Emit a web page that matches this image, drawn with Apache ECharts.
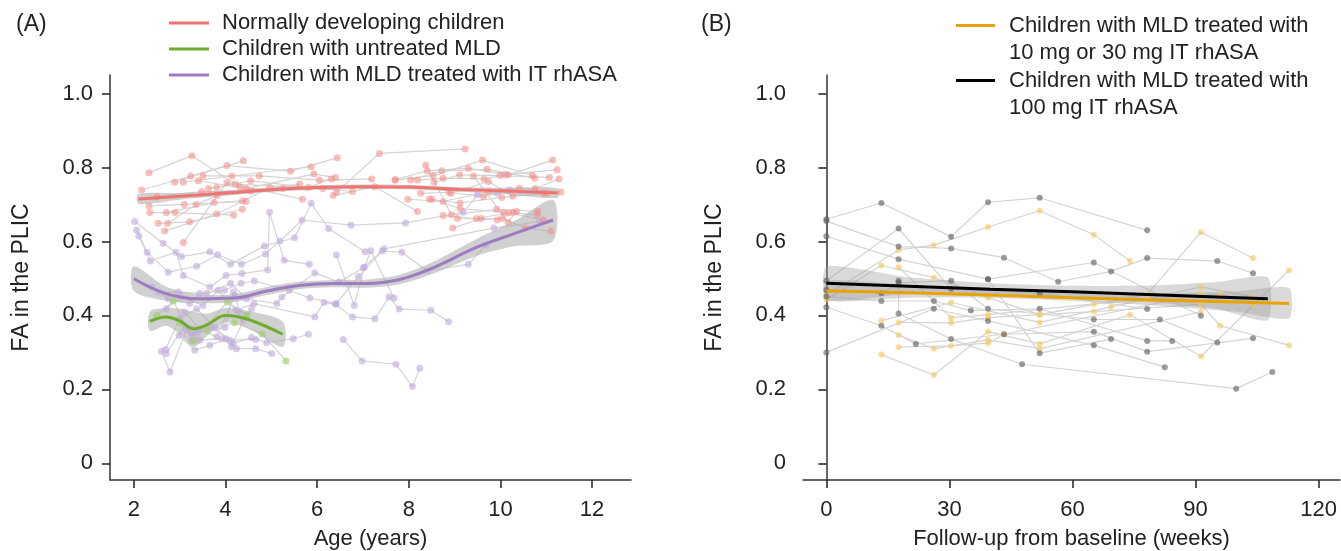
<!DOCTYPE html>
<html>
<head>
<meta charset="utf-8">
<script src="https://cdn.jsdelivr.net/npm/echarts@6/dist/echarts.min.js"></script>
<style>
  * { margin: 0; padding: 0; }
  body { background: #fff; }
  #chart-container { width: 1341px; height: 551px; }
</style>
</head>
<body>
<div id="chart-container"></div>
<script>
// ---- panel A: FA vs age, one trajectory per child ----
const pinkSubjects = [
  [[2.17, 0.739], [3.24, 0.777], [4.39, 0.818]],
  [[2.33, 0.786], [3.27, 0.832], [4.31, 0.748]],
  [[2.33, 0.696], [3.10, 0.700], [4.45, 0.708]],
  [[2.35, 0.678], [2.90, 0.678], [4.18, 0.671]],
  [[2.51, 0.721], [3.48, 0.735], [4.55, 0.736], [5.62, 0.755]],
  [[2.53, 0.649], [3.22, 0.653], [4.37, 0.687]],
  [[2.67, 0.628], [3.81, 0.674], [4.97, 0.746]],
  [[2.71, 0.678], [3.75, 0.705], [4.37, 0.710]],
  [[2.74, 0.649], [3.36, 0.700], [3.82, 0.724], [5.25, 0.743]],
  [[2.89, 0.760], [4.03, 0.805], [5.42, 0.790], [6.44, 0.826]],
  [[3.08, 0.760], [4.14, 0.777], [5.87, 0.802]],
  [[3.08, 0.597], [4.03, 0.759], [5.68, 0.714]],
  [[3.41, 0.764], [4.45, 0.743], [5.93, 0.782], [6.40, 0.773]],
  [[3.51, 0.777], [4.74, 0.777], [6.05, 0.766], [7.19, 0.769]],
  [[3.63, 0.743], [4.55, 0.764], [5.81, 0.746], [6.31, 0.769]],
  [[3.81, 0.746], [4.21, 0.755], [6.12, 0.743], [6.77, 0.735]],
  [[6.35, 0.724], [7.26, 0.748], [8.19, 0.681]],
  [[6.42, 0.733], [7.36, 0.838], [9.23, 0.850]],
  [[7.70, 0.766], [8.53, 0.778], [9.61, 0.820], [10.70, 0.778]],
  [[7.71, 0.767], [8.40, 0.791], [9.30, 0.798], [10.17, 0.780], [11.14, 0.820]],
  [[7.98, 0.714], [8.75, 0.708], [9.74, 0.735], [10.94, 0.730]],
  [[8.04, 0.766], [8.72, 0.791], [9.71, 0.795], [10.75, 0.771]],
  [[8.19, 0.766], [8.75, 0.771], [9.64, 0.769], [10.10, 0.780], [11.24, 0.794]],
  [[8.37, 0.807], [8.93, 0.672], [9.92, 0.687], [10.82, 0.681]],
  [[8.26, 0.730], [8.88, 0.733], [9.63, 0.721], [10.41, 0.744], [11.32, 0.734]],
  [[8.45, 0.714], [9.12, 0.704], [10.03, 0.719], [11.01, 0.730]],
  [[8.51, 0.714], [9.12, 0.689], [10.07, 0.679], [10.80, 0.672]],
  [[8.55, 0.760], [9.11, 0.780], [9.99, 0.778], [11.07, 0.773]],
  [[8.75, 0.670], [9.48, 0.662], [10.18, 0.677], [10.94, 0.658]],
  [[8.92, 0.730], [9.74, 0.762], [10.27, 0.722], [10.76, 0.743], [11.28, 0.769]],
  [[8.96, 0.636], [9.58, 0.662], [10.04, 0.662], [10.55, 0.636], [11.10, 0.628]],
  [[9.06, 0.662], [9.93, 0.658], [10.28, 0.679]],
  [[9.41, 0.777], [10.17, 0.652], [10.35, 0.681]]
];

const purpleSubjects = [
  [[2.02, 0.654], [2.64, 0.595], [3.04, 0.559], [3.66, 0.572], [4.11, 0.538], [4.85, 0.588], [5.51, 0.610], [5.87, 0.703], [6.25, 0.635], [7.05, 0.572]],
  [[2.06, 0.631], [2.29, 0.571], [2.75, 0.517], [3.37, 0.533], [3.83, 0.564], [4.35, 0.538], [4.87, 0.566], [5.19, 0.601], [5.67, 0.658], [6.74, 0.644], [7.93, 0.650], [9.19, 0.679], [9.50, 0.726], [9.93, 0.730], [10.20, 0.739]],
  [[2.11, 0.615], [2.36, 0.547], [2.92, 0.571], [3.08, 0.508], [3.66, 0.477], [4.01, 0.508], [4.36, 0.513], [4.92, 0.523], [4.96, 0.679], [5.28, 0.549], [5.83, 0.538]],
  [[2.39, 0.476], [2.75, 0.445], [3.22, 0.432], [3.44, 0.459], [3.98, 0.468], [4.34, 0.487], [4.63, 0.493], [5.39, 0.468], [5.84, 0.447], [6.42, 0.432], [6.90, 0.505], [7.42, 0.574], [7.85, 0.571], [8.40, 0.520], [9.30, 0.538], [9.69, 0.591]],
  [[2.53, 0.463], [2.97, 0.463], [3.59, 0.459], [4.11, 0.487], [4.46, 0.445], [5.12, 0.432], [5.23, 0.450], [5.95, 0.515], [6.48, 0.490], [7.01, 0.529], [7.46, 0.580], [9.86, 0.636], [10.86, 0.654]],
  [[2.60, 0.303], [2.79, 0.247], [3.15, 0.360], [3.44, 0.333], [3.92, 0.337], [4.24, 0.310], [4.66, 0.310], [5.01, 0.297]],
  [[2.69, 0.308], [3.00, 0.391], [3.37, 0.418], [3.77, 0.367], [4.17, 0.324], [4.57, 0.340], [4.90, 0.326], [5.48, 0.337], [5.81, 0.349]],
  [[2.71, 0.297], [3.11, 0.373], [3.26, 0.351], [3.66, 0.369], [4.11, 0.333], [4.66, 0.335]],
  [[2.71, 0.418], [3.04, 0.450], [3.51, 0.427], [3.84, 0.468], [4.23, 0.414], [4.62, 0.432], [5.95, 0.396], [6.15, 0.435], [6.40, 0.430], [6.77, 0.396], [7.26, 0.391], [7.57, 0.450], [7.79, 0.417], [8.48, 0.414], [8.87, 0.383]],
  [[2.99, 0.346], [3.33, 0.306], [3.66, 0.319], [4.01, 0.337], [4.13, 0.315], [4.39, 0.387], [4.46, 0.400], [4.57, 0.418]],
  [[3.11, 0.409], [3.44, 0.364], [3.81, 0.342], [4.21, 0.454], [4.31, 0.409]],
  [[3.26, 0.333], [3.37, 0.355], [3.99, 0.367], [4.17, 0.463]],
  [[6.42, 0.563], [6.81, 0.427], [7.03, 0.530], [7.17, 0.575], [7.68, 0.447]],
  [[6.57, 0.335], [6.98, 0.277], [7.72, 0.268], [8.08, 0.208], [8.24, 0.257]]
];

const greenSubjects = [
  [[2.50, 0.400], [2.86, 0.439], [3.30, 0.330], [4.04, 0.436], [4.46, 0.402]],
  [[3.00, 0.380], [3.60, 0.360], [4.20, 0.380], [4.80, 0.350], [5.32, 0.277]]
];

// smoothed fits and 95% bands, panel A
const pinkFitX = [2.1, 3, 4, 5, 6, 7, 8, 9, 10, 11.25];
const pinkFitY = [0.715, 0.722, 0.731, 0.740, 0.746, 0.748, 0.747, 0.741, 0.737, 0.731];
const pinkFitLo = [0.702, 0.713, 0.724, 0.734, 0.740, 0.742, 0.741, 0.735, 0.729, 0.718];
const pinkFitHi = [0.728, 0.731, 0.738, 0.746, 0.752, 0.754, 0.753, 0.747, 0.745, 0.744];

const purpleFitX = [2.0, 2.7, 3.4, 4.2, 4.9, 5.6, 6.4, 7.1, 7.8, 8.5, 9.5, 10.3, 11.15];
const purpleFitY = [0.499, 0.459, 0.445, 0.447, 0.466, 0.481, 0.486, 0.486, 0.497, 0.527, 0.585, 0.621, 0.658];
const purpleFitLo = [0.466, 0.440, 0.433, 0.436, 0.455, 0.471, 0.476, 0.475, 0.484, 0.511, 0.562, 0.587, 0.602];
const purpleFitHi = [0.533, 0.478, 0.457, 0.458, 0.477, 0.491, 0.496, 0.497, 0.510, 0.543, 0.608, 0.655, 0.712];

const greenFitX = [2.35, 2.7, 3.0, 3.3, 3.6, 4.0, 4.5, 5.25];
const greenFitY = [0.384, 0.396, 0.385, 0.364, 0.375, 0.400, 0.389, 0.349];
const greenFitLo = [0.358, 0.372, 0.350, 0.315, 0.345, 0.380, 0.365, 0.315];
const greenFitHi = [0.410, 0.420, 0.418, 0.410, 0.405, 0.420, 0.412, 0.383];

// ---- panel B: FA vs weeks from baseline ----
const lowDoseSubjects = [
  [[0, 0.455], [17.6, 0.577], [26.2, 0.590], [39.4, 0.639], [52, 0.683], [65.2, 0.618], [74, 0.547]],
  [[0, 0.443], [13.4, 0.535], [26.2, 0.502], [39.4, 0.448], [52, 0.402], [78.2, 0.457], [91.3, 0.625], [104, 0.555]],
  [[13.4, 0.386], [30.4, 0.435], [52, 0.381], [69.4, 0.423], [91.3, 0.477], [104, 0.450]],
  [[13.4, 0.294], [26.2, 0.239], [39.4, 0.356], [52, 0.323], [74, 0.402], [91.3, 0.289], [112.8, 0.522]],
  [[17.6, 0.530], [30.4, 0.394], [39.4, 0.402], [65.2, 0.431], [78.2, 0.443], [96, 0.457], [104, 0.429]],
  [[17.6, 0.381], [30.4, 0.380], [39.4, 0.394], [52, 0.402], [65.2, 0.410], [91.3, 0.430], [96, 0.372], [112.8, 0.319]],
  [[17.6, 0.347], [26.2, 0.310], [39.4, 0.334], [52, 0.310], [91.3, 0.410]],
  [[17.6, 0.314], [30.4, 0.318], [39.4, 0.325], [43.3, 0.349], [91.3, 0.457]]
];

const highDoseSubjects = [
  [[0, 0.660], [13.4, 0.704], [30.4, 0.613], [39.4, 0.706], [52, 0.718], [78.2, 0.630]],
  [[0, 0.655], [17.6, 0.586], [30.4, 0.581], [43.3, 0.556], [56.5, 0.491], [69.4, 0.519], [78.2, 0.555], [95.3, 0.547], [104, 0.514]],
  [[0, 0.614], [17.6, 0.552], [39.4, 0.498], [65.2, 0.543], [91.3, 0.399]],
  [[0, 0.494], [17.6, 0.635], [30.4, 0.472], [52, 0.460], [78.2, 0.417]],
  [[0, 0.469], [13.4, 0.460], [17.6, 0.488], [30.4, 0.494], [39.4, 0.418], [65.2, 0.389], [81.3, 0.389], [95.3, 0.327]],
  [[0, 0.451], [13.4, 0.439], [26.2, 0.439], [35.2, 0.413], [52, 0.418], [78.2, 0.331], [84.3, 0.331]],
  [[0, 0.422], [13.4, 0.372], [21.8, 0.323], [43.3, 0.349], [65.2, 0.356], [78.2, 0.302], [104, 0.338]],
  [[0, 0.300], [26.2, 0.418], [39.4, 0.385], [65.2, 0.319], [82.5, 0.260]],
  [[17.6, 0.494], [17.6, 0.405], [30.4, 0.336], [47.7, 0.268], [99.9, 0.202], [108.7, 0.247]],
  [[39.4, 0.498], [52, 0.298], [69.4, 0.336]]
];

const highFitX = [0, 20, 40, 60, 80, 95, 107.6];
const highFitY = [0.487, 0.479, 0.471, 0.464, 0.456, 0.450, 0.445];
const highFitLo = [0.442, 0.458, 0.455, 0.448, 0.435, 0.418, 0.387];
const highFitHi = [0.532, 0.503, 0.487, 0.480, 0.481, 0.490, 0.503];

const lowFitX = [0, 20, 40, 60, 80, 100, 112.8];
const lowFitY = [0.467, 0.461, 0.455, 0.448, 0.442, 0.436, 0.432];
const lowFitLo = [0.440, 0.448, 0.447, 0.439, 0.427, 0.410, 0.392];
const lowFitHi = [0.494, 0.482, 0.470, 0.461, 0.459, 0.465, 0.474];

// axes
const yTicks = [0, 0.2, 0.4, 0.6, 0.8, 1.0];
const ageTicks = [2, 4, 6, 8, 10, 12];
const weekTicks = [0, 30, 60, 90, 120];

const legendA = ['Normally developing children', 'Children with untreated MLD', 'Children with MLD treated with IT rhASA'];
const legendB = ['Children with MLD treated with\n10 mg or 30 mg IT rhASA', 'Children with MLD treated with\n100 mg IT rhASA'];

const FONT = '"Liberation Sans", Arial, sans-serif';
const TXT = '#222';
const LOW_COLOR = '#e9a300';
const HIGH_COLOR = '#000000';

const dom = document.getElementById('chart-container');
const myChart = echarts.init(dom, null, { renderer: 'canvas' });

function zip(xs, ys) {
    return xs.map((x, i) => [x, ys[i]]);
}

function yAxis(idx) {
    return {
        type: 'value', gridIndex: idx, min: -0.045, max: 1.05,
        name: 'FA in the PLIC', nameLocation: 'middle', nameGap: 77,
        nameTextStyle: { fontSize: 23, color: TXT, fontFamily: FONT },
        axisLine: { show: true, lineStyle: { color: '#333', width: 1.5 } },
        axisTick: { show: true, customValues: yTicks, length: 8, lineStyle: { color: '#222', width: 1.5 } },
        axisLabel: {
            customValues: yTicks, margin: 17, fontSize: 22, color: TXT, fontFamily: FONT,
            formatter: v => v === 0 ? '0' : v.toFixed(1)
        },
        splitLine: { show: false }
    };
}

function xAxis(idx, min, max, ticks, name) {
    return {
        type: 'value', gridIndex: idx, min: min, max: max,
        name: name, nameLocation: 'middle', nameGap: 48,
        nameTextStyle: { fontSize: 22, color: TXT, fontFamily: FONT },
        axisLine: { show: true, onZero: false, lineStyle: { color: '#333', width: 1.5 } },
        axisTick: { show: true, customValues: ticks, length: 8, lineStyle: { color: '#222', width: 1.5 } },
        axisLabel: { customValues: ticks, margin: 19, fontSize: 22, color: TXT, fontFamily: FONT },
        splitLine: { show: false }
    };
}

// gray connector lines, one per child
function trajectories(list, idx) {
    return list.map(s => ({
        type: 'line', xAxisIndex: idx, yAxisIndex: idx, data: s,
        symbol: 'none', silent: true, z: 1,
        lineStyle: { color: '#d4d4d4', width: 1.2 }
    }));
}

function dots(list, idx, color, size) {
    return {
        type: 'scatter', xAxisIndex: idx, yAxisIndex: idx,
        data: list.flat(), symbolSize: size, silent: true, z: 3,
        itemStyle: { color: color }
    };
}

function band(xs, lo, hi, idx, color, smooth) {
    return {
        type: 'custom', xAxisIndex: idx, yAxisIndex: idx, silent: true, z: 2,
        data: [[xs[0], lo[0]]],
        renderItem: function (params, api) {
            const up = [];
            const low = [];
            for (let i = 0; i < xs.length; i++) {
                up.push(api.coord([xs[i], hi[i]]));
                low.push(api.coord([xs[i], lo[i]]));
            }
            // upper edge left->right, lower edge right->left
            return {
                type: 'polygon',
                shape: { points: up.concat(low.reverse()), smooth: smooth },
                style: { fill: color }
            };
        }
    };
}

function fit(name, xs, ys, idx, color, width, smooth) {
    return {
        name: name, type: 'line', xAxisIndex: idx, yAxisIndex: idx,
        data: zip(xs, ys), smooth: smooth, symbol: 'none', silent: true, z: 5,
        itemStyle: { color: color },
        lineStyle: { color: color, width: width }
    };
}

let series = [];
series = series.concat(trajectories(pinkSubjects, 0));
series = series.concat(trajectories(purpleSubjects, 0));
series = series.concat(trajectories(greenSubjects, 0));
series = series.concat(trajectories(lowDoseSubjects, 1));
series = series.concat(trajectories(highDoseSubjects, 1));

series.push(band(pinkFitX, pinkFitLo, pinkFitHi, 0, 'rgba(170,170,170,0.55)', 0.3));
series.push(band(purpleFitX, purpleFitLo, purpleFitHi, 0, 'rgba(170,170,170,0.55)', 0.3));
series.push(band(greenFitX, greenFitLo, greenFitHi, 0, 'rgba(170,170,170,0.55)', 0.3));
series.push(band(highFitX, highFitLo, highFitHi, 1, 'rgba(160,160,160,0.4)', 0.2));
series.push(band(lowFitX, lowFitLo, lowFitHi, 1, 'rgba(160,160,160,0.4)', 0.2));

series.push(dots(purpleSubjects, 0, 'rgba(190,170,220,0.75)', 7));
series.push(dots(greenSubjects, 0, 'rgba(160,210,110,0.85)', 7));
series.push(dots(pinkSubjects, 0, 'rgba(242,140,138,0.7)', 7));
series.push(dots(lowDoseSubjects, 1, 'rgba(244,200,90,0.75)', 6));
series.push(dots(highDoseSubjects, 1, 'rgba(90,90,90,0.75)', 6));

series.push(fit(legendA[0], pinkFitX, pinkFitY, 0, '#f07470', 3, 0.4));
series.push(fit(legendA[1], greenFitX, greenFitY, 0, '#6fad2a', 3, 0.4));
series.push(fit(legendA[2], purpleFitX, purpleFitY, 0, '#9c7dc2', 3, 0.4));
series.push(fit(legendB[0], lowFitX, lowFitY, 1, LOW_COLOR, 3, false));
series.push(fit(legendB[1], highFitX, highFitY, 1, HIGH_COLOR, 3, false));

// panel B legend: key line sits beside the first text line
const legendBColors = [LOW_COLOR, HIGH_COLOR];
const legendBGraphic = [];
legendB.forEach((label, i) => {
    const top = 12 + i * 55;
    legendBGraphic.push({
        type: 'rect', left: 956, top: top + 12,
        shape: { width: 39, height: 3 }, style: { fill: legendBColors[i] }
    });
    legendBGraphic.push({
        type: 'text', left: 1009, top: top,
        style: { text: label, font: '22px ' + FONT, lineHeight: 27, fill: TXT }
    });
});

const option = {
    backgroundColor: '#fff',
    animation: false,
    textStyle: { fontFamily: FONT },
    title: [
        { text: '(A)', left: 11, top: 8, textStyle: { fontSize: 23, fontWeight: 'normal', color: TXT, fontFamily: FONT } },
        { text: '(B)', left: 696, top: 8, textStyle: { fontSize: 23, fontWeight: 'normal', color: TXT, fontFamily: FONT } }
    ],
    legend: {
        data: legendA, orient: 'vertical', left: 164, top: 7,
        icon: 'rect', itemWidth: 40, itemHeight: 3, itemGap: 4,
        selectedMode: false,
        textStyle: { fontSize: 22, color: TXT, fontFamily: FONT, padding: [0, 0, 0, 8] }
    },
    graphic: legendBGraphic,
    grid: [
        { left: 110, right: 710, top: 75, bottom: 71, outerBoundsMode: 'none' },
        { left: 803, right: 1, top: 75, bottom: 71, outerBoundsMode: 'none' }
    ],
    xAxis: [
        xAxis(0, 1.48, 12.85, ageTicks, 'Age (years)'),
        xAxis(1, -5.7, 125.2, weekTicks, 'Follow-up from baseline (weeks)')
    ],
    yAxis: [yAxis(0), yAxis(1)],
    series: series
};

myChart.setOption(option);
window.addEventListener('resize', () => {
    myChart.resize();
});
</script>
</body>
</html>
